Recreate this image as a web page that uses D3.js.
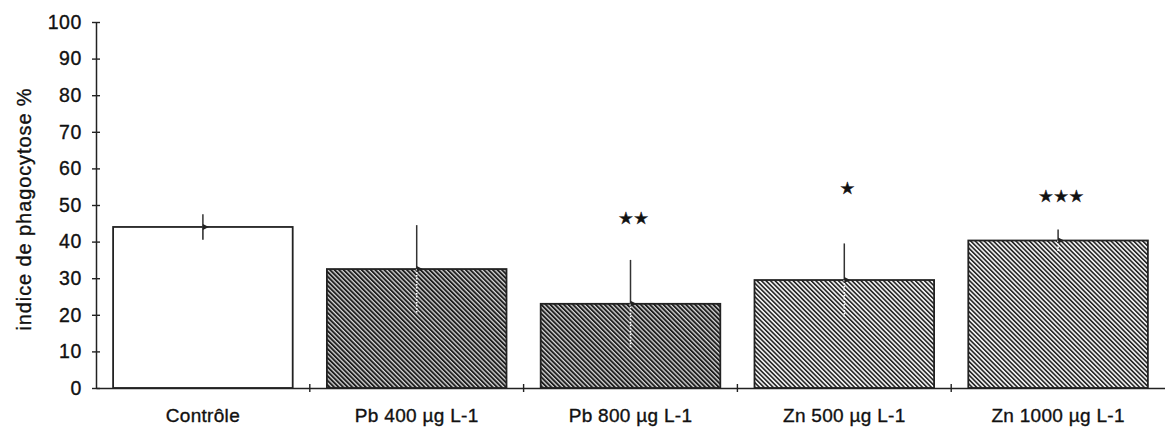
<!DOCTYPE html>
<html>
<head>
<meta charset="utf-8">
<script src="https://cdn.jsdelivr.net/npm/d3@7"></script>
<style>
  body { margin: 0; background: #fff; }
  text { font-family: "Liberation Sans", Arial, sans-serif; fill: #111; stroke: #111; stroke-width: 0.35px; }
</style>
</head>
<body>
<script>
let categories = ["Contrôle", "Pb 400 µg L-1", "Pb 800 µg L-1", "Zn 500 µg L-1", "Zn 1000 µg L-1"];
let means = [44, 32.5, 23, 29.5, 40.3];
let errors = [3.5, 12, 12, 10, 3];
let stars = ["", "", "**", "*", "***"];
let fills = ["white", "url(#hatchDark)", "url(#hatchDark)", "url(#hatchLight)", "url(#hatchLight)"];
let yTicks = [0, 10, 20, 30, 40, 50, 60, 70, 80, 90, 100];

let width = 1165, height = 430;
let margin = {left: 96, right: 0, top: 22, bottom: 42};

let svg = d3.select("body")
    .append("svg")
    .attr("width", width)
    .attr("height", height);

let defs = svg.append("defs");

function addHatch(id, sw, bg) {
  let p = defs.append("pattern")
    .attr("id", id)
    .attr("patternUnits", "userSpaceOnUse")
    .attr("width", 3.2)
    .attr("height", 4)
    .attr("patternTransform", "rotate(-45)");
  p.append("rect").attr("width", 3.2).attr("height", 4).attr("fill", bg);
  p.append("rect").attr("width", sw).attr("height", 4).attr("fill", "#1e1e1e");
}
addHatch("hatchDark", 1.9, "#d8d8d8");
addHatch("hatchLight", 1.5, "#ececec");

let x = d3.scaleBand()
  .domain(categories)
  .range([margin.left, width - margin.right])
  .paddingInner(0.16)
  .paddingOuter(0.08);

let y = d3.scaleLinear()
  .domain([0, 100])
  .range([height - margin.bottom, margin.top]);

// bars
let g = svg.append("g");

g.selectAll("rect.bar")
  .data(categories)
  .join("rect")
  .attr("class", "bar")
  .attr("x", function(d) { return x(d); })
  .attr("y", function(d, i) { return y(means[i]); })
  .attr("width", x.bandwidth())
  .attr("height", function(d, i) { return y(0) - y(means[i]); })
  .attr("fill", function(d, i) { return fills[i]; })
  .attr("stroke", "#222")
  .attr("stroke-width", 1.8);

// error bars: solid above mean, dotted inside bar
g.selectAll("line.errUp")
  .data(categories)
  .join("line")
  .attr("class", "errUp")
  .attr("x1", function(d) { return x(d) + x.bandwidth() / 2; })
  .attr("x2", function(d) { return x(d) + x.bandwidth() / 2; })
  .attr("y1", function(d, i) { return y(means[i] + errors[i]); })
  .attr("y2", function(d, i) { return y(means[i]); })
  .attr("stroke", "#333")
  .attr("stroke-width", 1.5);

g.selectAll("line.errDown")
  .data(categories)
  .join("line")
  .attr("class", "errDown")
  .attr("x1", function(d) { return x(d) + x.bandwidth() / 2; })
  .attr("x2", function(d) { return x(d) + x.bandwidth() / 2; })
  .attr("y1", function(d, i) { return y(means[i]); })
  .attr("y2", function(d, i) { return y(means[i] - errors[i]); })
  .attr("stroke", function(d, i) { return i === 0 ? "#333" : "#fff"; })
  .attr("stroke-width", 1.6)
  .attr("stroke-dasharray", function(d, i) { return i === 0 ? null : "1.5,1.5"; });

// small mean marker
g.selectAll("path.mark")
  .data(categories)
  .join("path")
  .attr("class", "mark")
  .attr("d", function(d, i) {
    let cx = x(d) + x.bandwidth() / 2, cy = y(means[i]);
    return "M" + cx + "," + (cy - 3) + "L" + (cx + 6) + "," + cy + "L" + cx + "," + (cy + 3) + "Z";
  })
  .attr("fill", "#222");

// significance stars
g.selectAll("text.star")
  .data(categories)
  .join("text")
  .attr("class", "star")
  .attr("x", function(d) { return x(d) + x.bandwidth() / 2 + 3; })
  .attr("y", function(d, i) { return i === 3 ? 194 : (i === 2 ? 224 : 202); })
  .attr("text-anchor", "middle")
  .style("font-family", "DejaVu Sans")
  .style("font-size", "17px")
  .text(function(d, i) { return stars[i].replace(/\*/g, "★"); });

// y axis
let yAxis = svg.append("g")
  .attr("transform", "translate(" + margin.left + ",0)")
  .call(d3.axisLeft(y).tickValues(yTicks).tickSize(0).tickPadding(14));
yAxis.select(".domain").attr("stroke", "#222").attr("stroke-width", 1.5);
yAxis.selectAll(".tick line").remove();
yAxis.selectAll(".tick")
  .append("line")
  .attr("x1", -4).attr("x2", 4)
  .attr("stroke", "#222").attr("stroke-width", 1.4);
yAxis.selectAll(".tick text")
  .style("font-size", "19.5px")
  .style("letter-spacing", "0.6px")
  .style("font-family", "Liberation Sans, Arial, sans-serif")
  .attr("fill", "#111");

// x axis
let xAxis = svg.append("g")
  .attr("transform", "translate(0," + y(0) + ")")
  .call(d3.axisBottom(x).tickSize(0).tickPadding(21));
xAxis.select(".domain").attr("stroke", "#222").attr("stroke-width", 1.5);
xAxis.selectAll(".tick text")
  .style("font-size", "19px")
  .style("letter-spacing", "0.3px")
  .style("font-family", "Liberation Sans, Arial, sans-serif")
  .attr("fill", "#111");

// band boundary ticks on the x axis
let bounds = categories.map(function(d) { return x(d) + x.bandwidth() + x.step() * x.paddingInner() / 2; }).slice(0, -1);
svg.append("g").selectAll("line")
  .data(bounds)
  .join("line")
  .attr("x1", function(d) { return d; })
  .attr("x2", function(d) { return d; })
  .attr("y1", y(0) - 4)
  .attr("y2", y(0) + 4)
  .attr("stroke", "#222")
  .attr("stroke-width", 1.4);

// y label
svg.append("text")
  .attr("transform", "translate(31," + ((y(0) + y(100)) / 2 + 4) + ") rotate(-90)")
  .attr("text-anchor", "middle")
  .style("font-size", "20px")
  .style("letter-spacing", "0.9px")
  .text("indice de phagocytose %");
</script>
</body>
</html>
